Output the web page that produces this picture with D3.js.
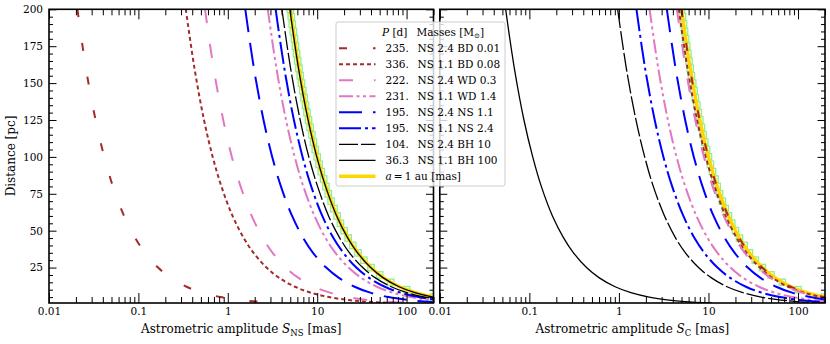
<!DOCTYPE html>
<html>
<head>
<meta charset="utf-8">
<script src="https://cdn.jsdelivr.net/npm/d3@7"></script>
<style>
    body { margin: 0; background: #fff; }
    svg { display: block; font-family: "DejaVu Serif", serif; }
</style>
</head>
<body>
<svg id="chart" width="830" height="344"></svg>
<script>
// Distances at which the amplitudes were read [pc]
const distances = [200, 160, 125, 100, 80, 60, 45, 35, 25, 18, 12, 8, 5, 3, 2, 1];

// Neutron star amplitude S_NS [mas], one array per binary
const nsBd001 = [0.0208, 0.0259, 0.0332, 0.0415, 0.0519, 0.0692, 0.0922, 0.119, 0.166, 0.231, 0.346, 0.519, 0.83, 1.38, 2.08, 4.15];
const nsBd008 = [0.339, 0.424, 0.542, 0.678, 0.848, 1.13, 1.51, 1.94, 2.71, 3.77, 5.65, 8.48, 13.6, 22.6, 33.9, 67.8];
const nsWd03 = [0.556, 0.694, 0.889, 1.11, 1.39, 1.85, 2.47, 3.17, 4.44, 6.17, 9.26, 13.9, 22.2, 37.0, 55.6, 111];
const nsWd14 = [2.80, 3.50, 4.48, 5.60, 7.00, 9.33, 12.4, 16.0, 22.4, 31.1, 46.7, 70.0, 112, 187, 280, 560];
const nsNs11 = [1.57, 1.96, 2.51, 3.14, 3.93, 5.24, 6.98, 8.98, 12.6, 17.5, 26.2, 39.3, 62.9, 105, 157, 314];
const nsNs24 = [3.43, 4.29, 5.49, 6.86, 8.57, 11.4, 15.2, 19.6, 27.4, 38.1, 57.1, 85.7, 137, 229, 343, 686];
const nsBh10 = [4.03, 5.04, 6.45, 8.06, 10.1, 13.4, 17.9, 23.0, 32.3, 44.8, 67.2, 101, 161, 269, 403, 806];
const nsBh100 = [4.95, 6.18, 7.91, 9.89, 12.4, 16.5, 22.0, 28.3, 39.6, 54.9, 82.4, 124, 198, 330, 495, 989];

// Companion amplitude S_C [mas]
const cBd001 = [4.98, 6.22, 7.97, 9.96, 12.4, 16.6, 22.1, 28.5, 39.8, 55.3, 83.0, 124, 199, 332, 498, 996];
const cBd008 = [4.66, 5.83, 7.46, 9.32, 11.7, 15.5, 20.7, 26.6, 37.3, 51.8, 77.7, 117, 186, 311, 466, 932];
const cWd03 = [4.44, 5.56, 7.11, 8.89, 11.1, 14.8, 19.8, 25.4, 35.6, 49.4, 74.1, 111, 178, 296, 444, 889];
const cWd14 = [2.20, 2.75, 3.52, 4.40, 5.50, 7.33, 9.78, 12.6, 17.6, 24.4, 36.7, 55.0, 88.0, 147, 220, 440];
const cNs11 = [3.43, 4.29, 5.49, 6.86, 8.57, 11.4, 15.2, 19.6, 27.4, 38.1, 57.1, 85.7, 137, 229, 343, 686];
const cNs24 = [1.57, 1.96, 2.51, 3.14, 3.93, 5.24, 6.98, 8.98, 12.6, 17.5, 26.2, 39.3, 62.9, 105, 157, 314];
const cBh10 = [0.968, 1.21, 1.55, 1.94, 2.42, 3.23, 4.30, 5.53, 7.74, 10.8, 16.1, 24.2, 38.7, 64.5, 96.8, 194];
const cBh100 = [0.0544, 0.068, 0.087, 0.109, 0.136, 0.181, 0.242, 0.311, 0.435, 0.604, 0.907, 1.36, 2.18, 3.63, 5.44, 10.9];

// Amplitude of a 1 au orbit [mas]
const oneAu = [5.00, 6.25, 8.00, 10.0, 12.5, 16.7, 22.2, 28.6, 40.0, 55.6, 83.3, 125, 200, 333, 500, 1000];

// Green square markers along the 1 au curve
const markerDist = [200, 195, 190, 185, 180, 175, 170, 165, 160, 155, 150, 145, 140, 135, 130, 125, 120, 115, 110, 105,
    100, 95, 90, 85, 80, 75, 70, 65, 60, 55, 50, 45, 40, 35, 30, 25, 20, 15, 10, 5];
const markerAmp = [5.00, 5.13, 5.26, 5.41, 5.56, 5.71, 5.88, 6.06, 6.25, 6.45, 6.67, 6.90, 7.14, 7.41, 7.69, 8.00, 8.33, 8.70, 9.09, 9.52,
    10.0, 10.5, 11.1, 11.8, 12.5, 13.3, 14.3, 15.4, 16.7, 18.2, 20.0, 22.2, 25.0, 28.6, 33.3, 40.0, 50.0, 66.7, 100, 200];

// Legend texts
const periods = ["235.", "336.", "222.", "231.", "195.", "195.", "104.", "36.3"];
const masses = ["NS 2.4 BD 0.01", "NS 1.1 BD 0.08", "NS 2.4 WD 0.3", "NS 1.1 WD 1.4",
    "NS 2.4 NS 1.1", "NS 1.1 NS 2.4", "NS 2.4 BH 10", "NS 1.1 BH 100"];

// Tick values and labels
const xTicks = [0.01, 0.1, 1, 10, 100];
const xTickLabels = ["0.01", "0.1", "1", "10", "100"];
const yTicks = [25, 50, 75, 100, 125, 150, 175, 200];

const leftSeries = [nsBd001, nsBd008, nsWd03, nsWd14, nsNs11, nsNs24, nsBh10, nsBh100];
const rightSeries = [cBd001, cBd008, cWd03, cWd14, cNs11, cNs24, cBh10, cBh100];

// Line style of every binary
const styles = [
    {color: "#a52a2a", width: 2, dash: "8,26"},
    {color: "#a52a2a", width: 2, dash: "4,3"},
    {color: "#e377c2", width: 2, dash: "14,21"},
    {color: "#e377c2", width: 2, dash: "14,3.5,3,3.5,3,3.5"},
    {color: "#0000ff", width: 2, dash: "23,11"},
    {color: "#0000ff", width: 2, dash: "22,4,3,4"},
    {color: "#000000", width: 1.3, dash: "19,3"},
    {color: "#000000", width: 1.3, dash: null}
];
const auStyle = {color: "#ffd700", width: 3.5};

const svg = d3.select("#chart");
const plotTop = 9.3, plotBottom = 303;

const y = d3.scaleLinear().domain([1, 200]).range([plotBottom, plotTop]);

// Minor tick positions
let xMinor = [];
[0.01, 0.1, 1, 10, 100].forEach(function (e) {
    for (let k = 2; k <= 9; k++) {
        if (k * e <= 200) xMinor.push(+(k * e).toPrecision(3));
    }
});
let yMinor = d3.range(5, 200, 5).filter(v => v % 25 !== 0);


/**
 * Draws one panel
 */
function drawPanel(id, x0, x1, series, sub, showYLabels) {
    let x = d3.scaleLog().domain([0.01, 200]).range([x0, x1]);
    let g = svg.append("g");

    g.append("defs").append("clipPath")
        .attr("id", "clip-" + id)
        .append("rect")
        .attr("x", x0).attr("y", plotTop)
        .attr("width", x1 - x0).attr("height", plotBottom - plotTop);

    let plot = g.append("g").attr("clip-path", "url(#clip-" + id + ")");

    // Green squares
    plot.selectAll("rect.mk")
        .data(markerDist)
        .enter().append("rect")
        .attr("class", "mk")
        .attr("x", (d, i) => x(markerAmp[i]) - 3.2)
        .attr("y", d => y(d) - 3.2)
        .attr("width", 6.4).attr("height", 6.4)
        .attr("fill", "none")
        .attr("stroke", "#90ee90")
        .attr("stroke-width", 1.3);

    let line = d3.line()
        .x(d => x(d[0]))
        .y(d => y(d[1]))
        .curve(d3.curveCatmullRom.alpha(0.5));

    // 1 au curve
    plot.append("path")
        .attr("d", line(oneAu.map((s, i) => [s, distances[i]])))
        .attr("fill", "none")
        .attr("stroke", auStyle.color)
        .attr("stroke-width", auStyle.width);

    series.forEach(function (s, k) {
        let st = styles[k];
        plot.append("path")
            .attr("d", line(s.map((v, i) => [v, distances[i]])))
            .attr("fill", "none")
            .attr("stroke", st.color)
            .attr("stroke-width", st.width)
            .attr("stroke-dasharray", st.dash);
    });

    // Axes, ticks pointing inwards on all four sides
    let fmt = d => xTickLabels[xTicks.indexOf(d)];
    let axes = [
        [d3.axisBottom(x).tickValues(xTicks).tickSize(-10).tickPadding(5).tickFormat(fmt), "translate(0," + plotBottom + ")"],
        [d3.axisBottom(x).tickValues(xMinor).tickSize(-6).tickFormat(""), "translate(0," + plotBottom + ")"],
        [d3.axisTop(x).tickValues(xTicks).tickSize(-10).tickFormat(""), "translate(0," + plotTop + ")"],
        [d3.axisTop(x).tickValues(xMinor).tickSize(-6).tickFormat(""), "translate(0," + plotTop + ")"],
        [d3.axisLeft(y).tickValues(yTicks).tickSize(-7.5).tickPadding(6).tickFormat(showYLabels ? d3.format("d") : ""), "translate(" + x0 + ",0)"],
        [d3.axisLeft(y).tickValues(yMinor).tickSize(-4).tickFormat(""), "translate(" + x0 + ",0)"],
        [d3.axisRight(y).tickValues(yTicks).tickSize(-7.5).tickFormat(""), "translate(" + x1 + ",0)"],
        [d3.axisRight(y).tickValues(yMinor).tickSize(-4).tickFormat(""), "translate(" + x1 + ",0)"]
    ];
    axes.forEach(function (a) {
        let ax = g.append("g").attr("transform", a[1]).call(a[0]);
        ax.select(".domain").remove();
        ax.selectAll("line").attr("stroke", "#000").attr("stroke-width", 1);
        ax.selectAll("text")
            .attr("fill", "#000")
            .style("font-family", "DejaVu Serif")
            .style("font-size", "10.5px");
    });

    // Frame
    g.append("rect")
        .attr("x", x0).attr("y", plotTop)
        .attr("width", x1 - x0).attr("height", plotBottom - plotTop)
        .attr("fill", "none")
        .attr("stroke", "#000")
        .attr("stroke-width", 1.6);

    // X label
    let lbl = g.append("text")
        .attr("x", (x0 + x1) / 2)
        .attr("y", 333)
        .attr("text-anchor", "middle")
        .style("font-size", "12px");
    lbl.append("tspan").text("Astrometric amplitude ");
    lbl.append("tspan").attr("font-style", "italic").text("S");
    lbl.append("tspan").attr("dy", 2.5).style("font-size", "8.5px").text(sub);
    lbl.append("tspan").attr("dy", -2.5).text(" [mas]");
}

drawPanel("l", 49, 433.5, leftSeries, "NS", true);
drawPanel("r", 439.8, 825, rightSeries, "C", false);

// Y label
svg.append("text")
    .attr("transform", "translate(15,156) rotate(-90)")
    .attr("text-anchor", "middle")
    .style("font-size", "12px")
    .text("Distance [pc]");

// Legend
let lg = svg.append("g");
lg.append("rect")
    .attr("x", 336).attr("y", 22)
    .attr("width", 169).attr("height", 164)
    .attr("rx", 2)
    .attr("fill", "#fff").attr("fill-opacity", 0.8)
    .attr("stroke", "#cccccc").attr("stroke-width", 1);

let head = lg.append("text").attr("x", 382).attr("y", 36).style("font-size", "10.5px");
head.append("tspan").attr("font-style", "italic").text("P");
head.append("tspan").text(" [d]");
let head2 = lg.append("text").attr("x", 416.5).attr("y", 36).style("font-size", "10.5px");
head2.append("tspan").text("Masses [M");
head2.append("tspan").attr("dy", 2).style("font-size", "7px").text("\u2299");
head2.append("tspan").attr("dy", -2).text("]");

periods.forEach(function (p, i) {
    let cy = 48.3 + 16 * i;
    let st = styles[i];
    lg.append("line")
        .attr("x1", 339).attr("x2", 375.5)
        .attr("y1", cy).attr("y2", cy)
        .attr("stroke", st.color)
        .attr("stroke-width", st.width)
        .attr("stroke-dasharray", st.dash);
    lg.append("text").attr("x", 385.5).attr("y", cy + 3.8).style("font-size", "10.5px").text(p);
    lg.append("text").attr("x", 417.5).attr("y", cy + 3.8).style("font-size", "10.5px").text(masses[i]);
});

let cyAu = 48.3 + 16 * 8;
lg.append("line")
    .attr("x1", 339).attr("x2", 375.5)
    .attr("y1", cyAu).attr("y2", cyAu)
    .attr("stroke", auStyle.color)
    .attr("stroke-width", auStyle.width);
let auText = lg.append("text").attr("x", 385.5).attr("y", cyAu + 3.8).style("font-size", "10.5px");
auText.append("tspan").attr("font-style", "italic").text("a");
auText.append("tspan").text("\u2009=\u20091 au [mas]");
</script>
</body>
</html>
